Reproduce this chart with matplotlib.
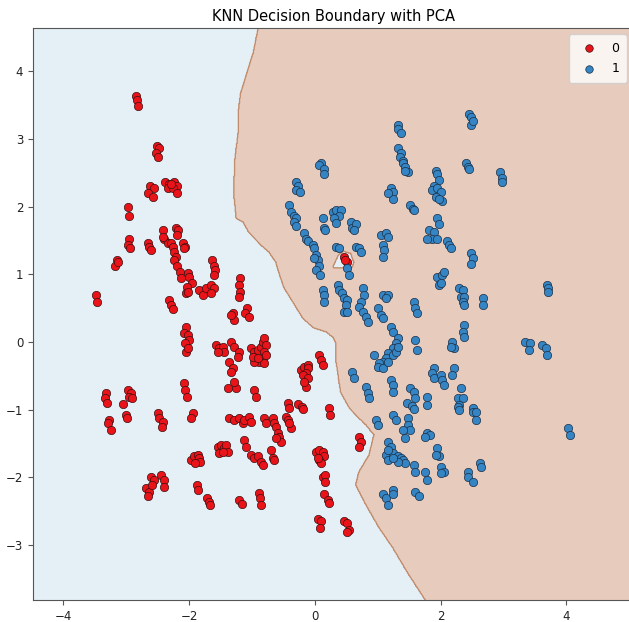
import numpy as np
import matplotlib
matplotlib.use("Agg")
import matplotlib.pyplot as plt
from matplotlib.path import Path

# PCA-projected samples, class 0
pc1_class0 = [
    -2.84, -2.83, -2.81, -2.51, -2.48, -2.52, -2.49, -2.62, -2.56, -2.65, -2.57,
    -2.38, -2.32, -2.24, -2.19, -2.33, -2.25, -2.19, -2.29, -2.97, -2.95,
    -2.95, -2.97, -2.94, -3.14, -3.17, -3.13, -3.48, -3.46, -2.65, -2.63, -2.60,
    -2.41, -2.40, -2.33, -2.41, -2.21, -2.17, -2.19,
    -2.29, -2.25, -2.24, -2.21, -2.24, -2.19, -2.10, -2.06, -2.08,
    -2.14, -2.13, -2.02, -2.00, -1.95, -2.03, -2.05, -2.02,
    -1.84, -1.78, -1.73, -1.65, -1.60, -1.65, -1.63, -1.60, -1.59, -1.60,
    -2.32, -2.29, -2.25, -2.05, -2.08, -2.02, -2.00, -2.06, -2.05, -2.02,
    -1.57, -1.52, -1.46, -1.44, -1.54, -2.08, -2.06, -2.03,
    -3.32, -3.33, -3.30, -2.97, -2.92, -2.95, -2.90, -3.05,
    -3.27, -3.29, -3.24, -3.00, -2.98, -2.49, -2.48, -2.41, -2.43, -1.94, -1.97,
    -1.54, -1.49, -1.44, -1.41, -1.38, -1.52, -1.46,
    -1.97, -1.92, -1.86, -1.84, -1.83, -1.90,
    -2.60, -2.56, -2.68, -2.63, -2.59, -2.65, -2.44, -2.40, -2.40,
    -1.87, -1.86, -1.71, -1.68, -1.67,
    -1.19, -1.21, -1.19, -1.21, -1.08, -1.11, -1.05, -1.30, -1.29, -1.33,
    -1.33, -1.29, -1.21, -1.22, -1.37, -1.30, -1.33, -1.25, -1.29, -1.38,
    -1.02, -0.97, -0.90, -0.86, -0.83, -0.81, -0.78, -0.81, -0.83, -0.89,
    -0.97, -0.98, -0.78, -0.81, -0.90, -0.97, -0.94,
    0.06, 0.10, 0.13, -0.22, -0.17, -0.11, -0.10, -0.14, -0.19, -0.11, -0.14, -0.17,
    0.46, 0.51, 0.48,
    -0.43, -0.41, -0.27, -0.21, -0.19, 0.22, 0.24,
    -1.37, -1.29, -1.21, -1.14, -1.13, -1.05, -1.02,
    -0.81, -0.78, -0.67, -0.65, -0.62, -0.59, -0.57, -0.54, -0.62,
    -0.46, -0.43, -0.38, -0.41,
    -1.13, -1.10, -1.02, -0.97, -0.90, -0.86, -0.83, -0.70, -0.67, -0.65,
    0.02, 0.06, 0.13, 0.14, 0.06, 0.10, 0.05, 0.13, 0.17, 0.17,
    0.14, 0.21, 0.22, 0.05, 0.10, 0.08, 0.46, 0.52, 0.54, 0.52,
    0.70, 0.73, 0.70, -1.21, -1.16, -0.89, -0.87, -0.86,
]
pc2_class0 = [
    3.64, 3.57, 3.49, 2.90, 2.86, 2.79, 2.73, 2.31, 2.27, 2.20, 2.15,
    2.37, 2.34, 2.36, 2.31, 2.28, 2.27, 2.20, 2.33, 1.99, 1.86,
    1.52, 1.44, 1.39, 1.21, 1.13, 1.18, 0.69, 0.59, 1.47, 1.40, 1.36,
    1.65, 1.53, 1.47, 1.55, 1.69, 1.65, 1.58,
    1.46, 1.40, 1.33, 1.25, 1.21, 1.13, 1.47, 1.40, 1.39,
    1.03, 0.94, 1.02, 0.96, 0.87, 0.81, 0.72, 0.74,
    0.77, 0.69, 0.80, 0.84, 0.80, 0.72, 1.21, 1.13, 1.06, 0.99,
    0.62, 0.55, 0.49, 0.22, 0.13, 0.10, 0.03, -0.01, -0.15, -0.09,
    -0.04, -0.09, -0.07, -0.15, -0.15, -0.60, -0.71, -0.81,
    -0.75, -0.83, -0.90, -0.71, -0.75, -0.81, -0.83, -0.91,
    -1.15, -1.19, -1.30, -1.08, -1.12, -1.05, -1.12, -1.18, -1.25, -1.05, -1.12,
    -1.55, -1.52, -1.56, -1.52, -1.62, -1.64, -1.62,
    -1.74, -1.69, -1.67, -1.71, -1.77, -1.78,
    -1.99, -2.03, -2.15, -2.21, -2.11, -2.28, -1.96, -2.03, -2.14,
    -2.11, -2.18, -2.30, -2.36, -2.40,
    0.94, 0.84, 0.74, 0.66, 0.50, 0.43, 0.37, 0.43, 0.32, 0.40,
    0.00, -0.07, -0.15, -0.22, -0.29, -0.38, -0.44, -0.68, -0.59, -0.68,
    -0.09, -0.15, -0.12, -0.07, 0.00, 0.06, -0.04, -0.15, -0.24, -0.29,
    -0.29, -0.22, -0.19, -0.31, -0.24, -0.71, -0.81,
    -0.19, -0.27, -0.34, -0.41, -0.37, -0.34, -0.38, -0.46, -0.49, -0.53, -0.66, -0.59,
    1.25, 1.18, 1.22,
    -0.90, -0.97, -0.91, -0.96, -0.99, -0.97, -1.08,
    -1.12, -1.15, -1.12, -1.19, -1.15, -1.11, -1.18,
    -1.12, -1.19, -1.12, -1.19, -1.25, -1.34, -1.40, -1.47, -1.41,
    -1.11, -1.15, -1.27, -1.19,
    -1.44, -1.55, -1.67, -1.71, -1.69, -1.77, -1.81, -1.59, -1.71, -1.74,
    -1.62, -1.59, -1.62, -1.69, -1.74, -1.78, -1.71, -1.99, -1.96, -2.06,
    -2.25, -2.33, -2.37, -2.62, -2.65, -2.74, -2.65, -2.67, -2.77, -2.81,
    -1.40, -1.47, -1.55, -2.33, -2.39, -2.23, -2.30, -2.40,
]

# PCA-projected samples, class 1
pc1_class1 = [
    1.33, 1.32, 1.37, 1.33, 1.37, 1.35, 1.40, 1.41, 1.44, 1.48, 1.44,
    0.10, 0.06, 0.14, 0.14, -0.30, -0.27, -0.30, -0.24,
    1.21, 1.24, 1.25, 1.17, 1.52, 1.56, 1.57,
    -0.41, -0.38, -0.33, -0.30, -0.33, -0.30, 0.13, 0.14, 0.17,
    0.29, 0.33, 0.41, 0.38, 0.30, 0.33,
    2.46, 2.49, 2.48, 2.51, 2.40, 2.43, 2.46, 2.95, 2.97, 2.97,
    1.92, 1.95, 1.97, 1.89, 1.87, 1.95, 2.00, 1.92, 2.02, 1.97,
    1.94, 1.97, 1.81, 1.89, 1.87, 1.95, 1.79, 0.57, 0.60, 0.65, 0.62,
    -0.17, -0.14, -0.10, -0.03, -0.02, 0.02, 0.05, -0.02, 0.06, 0.02, 0.08,
    0.33, 0.38, 1.05, 1.13, 1.17, 1.08, 1.10, 1.08, 0.65, 0.70, 0.73,
    0.52, 0.54, 0.13, 0.14, 0.14,
    0.37, 0.38, 0.44, 0.46, 0.52, 0.49, 0.46, 0.52,
    0.76, 0.78, 0.73, 0.70, 0.76, 0.81, 0.84,
    1.08, 1.16, 1.13, 1.00, 1.05, 1.08, 1.57, 1.60, 1.63, 1.21, 1.24,
    1.32, 1.29, 1.24, 1.17, 1.13, 1.08, 1.02, 0.94, 1.00, 1.08, 1.17, 1.24, 1.29, 1.33,
    1.60, 1.63, 0.60, 0.62, 0.81, 0.84, 0.86, 1.21, 1.24, 1.25, 1.52, 1.57, 1.60,
    2.11, 2.13, 2.16, 2.48, 2.51, 2.48, 1.95, 2.03, 2.05, 1.97, 2.00,
    2.29, 2.35, 2.32, 2.37, 2.35, 2.38, 2.67, 2.67, 3.70, 3.71, 3.71,
    2.37, 2.35, 2.37, 2.19, 2.21, 2.17, 3.35, 3.43, 3.40, 3.62, 3.67, 3.70,
    1.89, 1.87, 1.89, 2.00, 2.03, 2.05, 2.21, 2.19,
    2.32, 2.27, 2.35, 2.29, 2.27, 2.29, 2.52, 2.51, 2.56, 2.56,
    1.79, 1.79, 1.79, 1.84, 1.76, 4.03, 4.06, 1.95, 1.97, 1.92, 2.63, 2.65,
    2.00, 2.05, 2.00, 2.44, 2.43, 2.51, 1.75, 1.79,
    0.97, 1.00, 1.24, 1.29, 1.48, 1.49, 1.52, 1.40, 1.44,
    1.17, 1.21, 1.13, 1.17, 1.25, 1.32, 1.37, 1.41, 1.44, 1.33, 1.24, 1.16,
    1.57, 1.60, 1.08, 1.13, 1.16, 1.24, 1.25, 1.60, 1.65, 1.46, 1.54, 1.57,
]
pc2_class1 = [
    3.20, 3.15, 3.09, 2.86, 2.79, 2.73, 2.68, 2.64, 2.58, 2.51, 2.53,
    2.65, 2.61, 2.56, 2.49, 2.37, 2.31, 2.24, 2.21,
    2.27, 2.21, 2.12, 2.20, 2.02, 1.97, 1.95,
    2.02, 1.92, 1.87, 1.84, 1.77, 1.72, 1.84, 1.69, 1.65,
    1.92, 1.95, 1.95, 1.87, 1.84, 1.76,
    3.37, 3.32, 3.20, 3.27, 2.65, 2.58, 2.55, 2.51, 2.43, 2.36,
    2.53, 2.49, 2.39, 2.31, 2.24, 2.27, 2.21, 2.14, 2.09, 2.12,
    1.84, 1.75, 1.65, 1.62, 1.53, 1.53, 1.53, 1.77, 1.69, 1.75, 1.65,
    1.61, 1.53, 1.50, 1.43, 1.39, 1.28, 1.21, 1.24, 1.13, 1.06, 0.99,
    1.40, 1.39, 1.58, 1.61, 1.55, 1.43, 1.36, 1.25, 1.40, 1.39, 1.33,
    1.09, 0.99, 0.77, 0.69, 0.59,
    0.84, 0.77, 0.72, 0.65, 0.62, 0.55, 0.44, 0.44,
    0.80, 0.69, 0.59, 0.52, 0.44, 0.37, 0.29,
    0.69, 0.69, 0.65, 0.50, 0.40, 0.35, 0.59, 0.50, 0.43, 0.22, 0.15,
    0.06, -0.01, -0.09, -0.16, -0.24, -0.29, -0.31, -0.19, -0.37, -0.38, -0.29, -0.19, -0.15, -0.07,
    0.03, -0.12, -0.44, -0.53, -0.66, -0.75, -0.83, -0.56, -0.63, -0.74, -0.68, -0.74, -0.83,
    1.50, 1.43, 1.39, 1.31, 1.24, 1.16, 0.96, 0.99, 1.03, 0.84, 0.88,
    0.80, 0.77, 0.66, 0.66, 0.59, 0.55, 0.65, 0.55, 0.84, 0.80, 0.74,
    0.25, 0.15, 0.07, 0.00, -0.09, -0.07, 0.00, -0.01, -0.12, -0.04, -0.09, -0.19,
    -0.38, -0.46, -0.53, -0.49, -0.56, -0.63, -0.38, -0.49,
    -0.68, -0.83, -0.83, -0.93, -0.96, -1.00, -0.97, -1.03, -1.03, -1.15,
    -0.81, -0.93, -1.34, -1.37, -1.40, -1.27, -1.37, -1.56, -1.69, -1.67, -1.78, -1.84,
    -1.84, -1.92, -1.93, -1.92, -1.99, -2.06, -1.92, -2.03,
    -1.15, -1.22, -1.08, -1.15, -1.12, -1.22, -1.30, -1.30, -1.41,
    -1.47, -1.55, -1.67, -1.74, -1.64, -1.69, -1.71, -1.74, -1.78, -1.77, -1.71, -1.59,
    -1.81, -1.92, -2.25, -2.30, -2.40, -2.18, -2.25, -2.21, -2.28, -0.90, -0.95, -0.99,
]

# KNN decision boundary: x of the class switch at each y
boundary_y = [-3.80, -3.43, -3.04, -2.74, -2.40, -2.11, -1.92, -1.67, -1.37, -1.22,
              -1.08, -0.96, -0.74, -0.49, -0.24, -0.01, 0.07, 0.15, 0.21, 0.35,
              0.59, 0.80, 1.02, 1.18, 1.33, 1.46, 1.62, 1.77, 1.83, 2.21, 2.71,
              3.09, 3.45, 3.68, 3.83, 4.27, 4.64]
boundary_x = [1.75, 1.49, 1.24, 1.02, 0.81, 0.65, 0.70, 0.86, 0.94, 0.81,
              0.65, 0.54, 0.41, 0.37, 0.33, 0.33, 0.29, 0.18, -0.02, -0.19,
              -0.35, -0.49, -0.57, -0.62, -0.73, -0.89, -1.05, -1.14, -1.25, -1.29, -1.27,
              -1.22, -1.21, -1.18, -1.13, -0.98, -0.90]
# small class-0 pocket around the lone red sample
island_x = [0.29, 0.37, 0.46, 0.57, 0.62, 0.60, 0.29]
island_y = [1.11, 1.28, 1.34, 1.31, 1.18, 1.11, 1.09]

X0 = np.array(pc1_class0); Y0 = np.array(pc2_class0)
X1 = np.array(pc1_class1); Y1 = np.array(pc2_class1)
allx = np.concatenate([X0, X1]); ally = np.concatenate([Y0, Y1])
x_min, x_max = allx.min() - 1, allx.max() + 1
y_min, y_max = ally.min() - 1, ally.max() + 1

xx, yy = np.meshgrid(np.arange(x_min, x_max, 0.01), np.arange(y_min, y_max, 0.01))
Z = (xx > np.interp(yy, boundary_y, boundary_x)).astype(float)
pocket = Path(np.column_stack([island_x, island_y]))
inside = pocket.contains_points(np.column_stack([xx.ravel(), yy.ravel()])).reshape(xx.shape)
Z[inside] = 0

W, H = 629, 622
fig = plt.figure(figsize=(W / 100, H / 100), dpi=100)
ax = fig.add_axes([33 / W, 22 / H, 600 / W, 572 / H])

cmap = plt.cm.Paired
ax.contourf(xx, yy, Z, levels=[-0.5, 0.5, 1.5], colors=[cmap(0.0), cmap(1.0)], alpha=0.3)
ax.contour(xx, yy, Z, levels=[0.5], colors=[cmap(1.0)], linewidths=1.0, alpha=0.5)

ax.scatter(X0, Y0, c="#e8141a", s=36, edgecolor="#3a1010", linewidth=0.5, label="0", zorder=3)
ax.scatter(X1, Y1, c="#3584c4", s=36, edgecolor="#1c2f44", linewidth=0.5, label="1", zorder=3)

ax.set_xlim(x_min, x_max)
ax.set_ylim(y_min, y_max)
ax.set_xticks([-4, -2, 0, 2, 4])
ax.set_yticks([-3, -2, -1, 0, 1, 2, 3, 4])
ax.tick_params(labelsize=8.5, length=3.5, color="#555", labelcolor="#222")
for s in ax.spines.values():
    s.set_color("#555")
ax.set_title("KNN Decision Boundary with PCA", fontsize=10.5, pad=5)
ax.legend(loc="upper right", fontsize=9, markerscale=0.9, handletextpad=0.8,
          borderpad=0.6, labelspacing=0.6)

fig.savefig("out.png", dpi=100)
